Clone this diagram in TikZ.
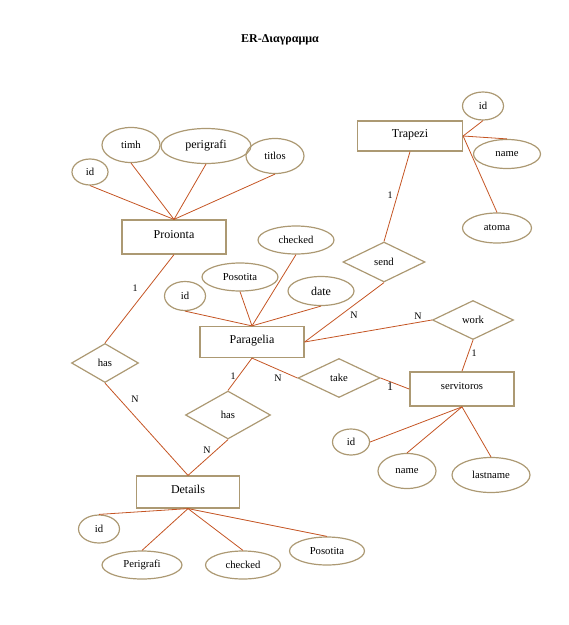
\documentclass[tikz,border=0pt]{standalone}
\usepackage{fontspec}
\setmainfont{Liberation Serif}
\usepackage{tikz}
\usetikzlibrary{positioning,shapes.geometric}
\definecolor{ErTan}{RGB}{172, 153, 115}
\definecolor{ErRust}{RGB}{196, 84, 35}
\tikzset{
  entity/.style={draw=ErTan, line width=0.9pt, rectangle, inner sep=0pt, font=\fontsize{9}{10}\selectfont},
  attrib/.style={draw=ErTan, line width=0.9pt, ellipse, inner sep=0pt, font=\fontsize{8}{9}\selectfont},
  rel/.style={draw=ErTan, line width=0.9pt, diamond, inner sep=0pt, font=\fontsize{8}{9}\selectfont},
  link/.style={draw=ErRust, line width=0.6pt},
  card/.style={font=\fontsize{7.5}{9}\selectfont, inner sep=1pt}
}
\begin{document}
\begin{tikzpicture}[x=0.75pt, y=-0.75pt]
  \useasboundingbox (0,0) rectangle (568,625);
  \node[font=\fontsize{9}{10}\selectfont\bfseries] (title) at (280,40) {ER-Διαγραμμα};

  \node[entity, minimum width=104*0.75pt, minimum height=34*0.75pt] (proionta) at (174,237) {\raisebox{4pt}{Proionta}};
  \node[attrib, minimum width=36*0.75pt, minimum height=26*0.75pt] (pid) at (90,172) {id};
  \node[attrib, minimum width=58*0.75pt, minimum height=35*0.75pt] (ptimh) at (131,145) {timh};
  \node[attrib, minimum width=90*0.75pt, minimum height=35*0.75pt, font=\fontsize{9}{10}\selectfont] (pperigrafi) at (206,146) {perigrafi};
  \node[attrib, minimum width=58*0.75pt, minimum height=35*0.75pt] (ptitlos) at (275,156) {titlos};

  \node[entity, minimum width=105*0.75pt, minimum height=30*0.75pt] (trapezi) at (410,136) {\raisebox{4pt}{Trapezi}};
  \node[attrib, minimum width=41*0.75pt, minimum height=28*0.75pt] (tid) at (483,106) {id};
  \node[attrib, minimum width=67*0.75pt, minimum height=29*0.75pt] (tname) at (507,154) {name};
  \node[attrib, minimum width=69*0.75pt, minimum height=30*0.75pt] (tatoma) at (497,228) {atoma};

  \node[entity, minimum width=104*0.75pt, minimum height=31*0.75pt] (paragelia) at (252,342) {\raisebox{4pt}{Paragelia}};
  \node[attrib, minimum width=76*0.75pt, minimum height=28*0.75pt] (achecked) at (296,240) {checked};
  \node[attrib, minimum width=76*0.75pt, minimum height=28*0.75pt] (aposotita) at (240,277) {Posotita};
  \node[attrib, minimum width=41*0.75pt, minimum height=29*0.75pt] (aid) at (185,296) {id};
  \node[attrib, minimum width=66*0.75pt, minimum height=29*0.75pt, font=\fontsize{9}{10}\selectfont] (adate) at (321,291) {date};

  \node[entity, line width=1.3pt, minimum width=104*0.75pt, minimum height=34*0.75pt] (servitoros) at (462,389) {\raisebox{4pt}{\fontsize{8}{9}\selectfont servitoros}};
  \node[attrib, minimum width=37*0.75pt, minimum height=26*0.75pt] (sid) at (351,442) {id};
  \node[attrib, minimum width=58*0.75pt, minimum height=35*0.75pt] (sname) at (407,471) {name};
  \node[attrib, minimum width=78*0.75pt, minimum height=35*0.75pt] (slastname) at (491,475) {lastname};

  \node[entity, minimum width=103*0.75pt, minimum height=32*0.75pt] (details) at (188,492) {\raisebox{4pt}{Details}};
  \node[attrib, minimum width=41*0.75pt, minimum height=28*0.75pt] (did) at (99,529) {id};
  \node[attrib, minimum width=80*0.75pt, minimum height=28*0.75pt] (dperigrafi) at (142,565) {Perigrafi};
  \node[attrib, minimum width=75*0.75pt, minimum height=28*0.75pt] (dchecked) at (243,565) {checked};
  \node[attrib, minimum width=75*0.75pt, minimum height=28*0.75pt] (dposotita) at (327,551) {Posotita};

  \node[rel, minimum width=82*0.75pt, minimum height=40*0.75pt] (send) at (384,262) {send};
  \node[rel, minimum width=81*0.75pt, minimum height=39*0.75pt] (work) at (473,320) {work};
  \node[rel, minimum width=82*0.75pt, minimum height=39*0.75pt] (take) at (339,378) {take};
  \node[rel, minimum width=67*0.75pt, minimum height=39*0.75pt] (hasone) at (105,363) {has};
  \node[rel, minimum width=85*0.75pt, minimum height=48*0.75pt] (hastwo) at (228,415) {has};

  \draw[link] (pid.south) -- (proionta.north);
  \draw[link] (ptimh.south) -- (proionta.north);
  \draw[link] (pperigrafi.south) -- (proionta.north);
  \draw[link] (ptitlos.south) -- (proionta.north);

  \draw[link] (trapezi.east) -- (tid.south);
  \draw[link] (trapezi.east) -- (tname.north);
  \draw[link] (trapezi.east) -- (tatoma.north);

  \draw[link] (aid.south) -- (paragelia.north);
  \draw[link] (aposotita.south) -- (paragelia.north);
  \draw[link] (achecked.south) -- (paragelia.north);
  \draw[link] (adate.south) -- (paragelia.north);

  \draw[link] (servitoros.south) -- (sid.east);
  \draw[link] (servitoros.south) -- (sname.north);
  \draw[link] (servitoros.south) -- (slastname.north);

  \draw[link] (details.south) -- (did.north);
  \draw[link] (details.south) -- (dperigrafi.north);
  \draw[link] (details.south) -- (dchecked.north);
  \draw[link] (details.south) -- (dposotita.north);

  \draw[link] (trapezi.south) -- (send.north);
  \draw[link] (send.south) -- (paragelia.east);
  \draw[link] (work.west) -- (paragelia.east);
  \draw[link] (work.south) -- (servitoros.north);
  \draw[link] (paragelia.south) -- (take.west);
  \draw[link] (take.east) -- (servitoros.west);
  \draw[link] (proionta.south) -- (hasone.north);
  \draw[link] (hasone.south) -- (details.north);
  \draw[link] (paragelia.south) -- (hastwo.north);
  \draw[link] (hastwo.south) -- (details.north);

  \node[card] (csend) at (390,195) {1};
  \node[card] (csendn) at (354,315) {N};
  \node[card] (cworkn) at (418,316) {N};
  \node[card] (cwork) at (474,353) {1};
  \node[card] (ctaken) at (278,378) {N};
  \node[card, font=\fontsize{9}{10}\selectfont] (ctake) at (390,387) {1};
  \node[card] (chasone) at (135,288) {1};
  \node[card] (chasonen) at (135,399) {N};
  \node[card] (chastwo) at (233,376) {1};
  \node[card] (chastwon) at (207,450) {N};
\end{tikzpicture}
\end{document}
